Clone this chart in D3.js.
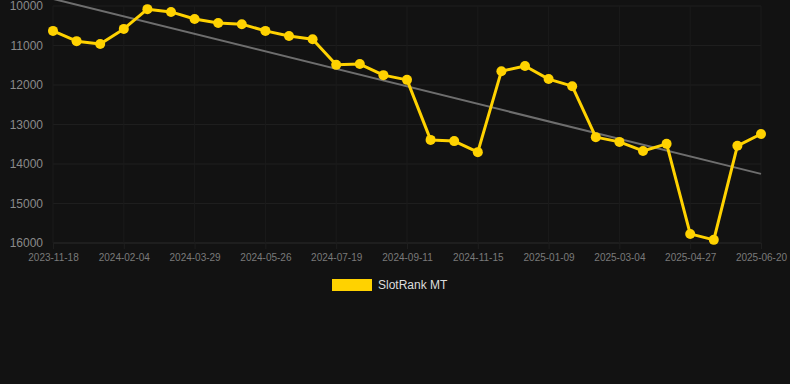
<!DOCTYPE html>
<html>
<head>
<meta charset="utf-8">
<script src="https://cdn.jsdelivr.net/npm/d3@7"></script>
<style>
  html, body { margin: 0; padding: 0; background: #121212; }
  svg { display: block; font-family: "Liberation Sans", Arial, sans-serif; }
</style>
</head>
<body>
<svg id="chart"></svg>
<script>
// dates of each rank sample
const dates = [
  "2023-11-18", "2023-12-14", "2024-01-09", "2024-02-04", "2024-02-22", "2024-03-11",
  "2024-03-29", "2024-04-17", "2024-05-07", "2024-05-26", "2024-06-13", "2024-07-01",
  "2024-07-19", "2024-08-06", "2024-08-24", "2024-09-11", "2024-10-03", "2024-10-24",
  "2024-11-15", "2024-12-03", "2024-12-21", "2025-01-09", "2025-01-27", "2025-02-14",
  "2025-03-04", "2025-03-22", "2025-04-09", "2025-04-27", "2025-05-15", "2025-06-02",
  "2025-06-20"
];
const ranks = [
  10630, 10890, 10960, 10580, 10080, 10150, 10330, 10430, 10460, 10630, 10760,
  10840, 11490, 11470, 11750, 11870, 13390, 13420, 13700, 11650, 11520, 11850,
  12030, 13320, 13440, 13670, 13490, 15770, 15920, 13540, 13240
];
const trend = [9820, 14250]; // trend line at first and last date
const yTicks = [10000, 11000, 12000, 13000, 14000, 15000, 16000];
const xTicks = dates.filter((d, i) => i % 3 === 0);
const seriesName = "SlotRank MT";

const width = 790, height = 384;
const margin = {top: 6, right: 29, bottom: 141, left: 53};

const svg = d3.select("#chart").attr("width", width).attr("height", height);

const x = d3.scalePoint()
  .domain(dates)
  .range([margin.left, width - margin.right]);

const y = d3.scaleLinear()
  .domain([10000, 16000])
  .range([margin.top, height - margin.bottom]);

// grid
svg.append("g")
  .selectAll("line")
  .data(yTicks)
  .join("line")
  .attr("x1", margin.left)
  .attr("x2", width - margin.right)
  .attr("y1", d => y(d))
  .attr("y2", d => y(d))
  .attr("stroke", d => d === 16000 ? "#2a2a2a" : "#1e1e1e");

svg.append("g")
  .selectAll("line")
  .data(xTicks)
  .join("line")
  .attr("x1", d => x(d))
  .attr("x2", d => x(d))
  .attr("y1", margin.top)
  .attr("y2", height - margin.bottom)
  .attr("stroke", "#1b1b1b");

// y axis labels
const yAxis = d3.axisLeft(y).tickValues(yTicks).tickFormat(d3.format("d")).tickSize(0).tickPadding(10);
svg.append("g")
  .attr("transform", `translate(${margin.left},0)`)
  .call(yAxis)
  .call(g => g.select(".domain").remove())
  .call(g => g.selectAll("text")
    .attr("fill", "#8a8a8a")
    .style("font-size", "12px")
    .style("font-family", "Liberation Sans, Arial, sans-serif"));

// x axis labels
const xAxis = d3.axisBottom(x).tickValues(xTicks).tickSize(6).tickPadding(5);
svg.append("g")
  .attr("transform", `translate(0,${height - margin.bottom})`)
  .call(xAxis)
  .call(g => g.select(".domain").remove())
  .call(g => g.selectAll("line").attr("stroke", "#1e1e1e"))
  .call(g => g.selectAll("text")
    .attr("fill", "#7a7a7a")
    .style("font-size", "10px")
    .style("font-family", "Liberation Sans, Arial, sans-serif"));

// trend line
svg.append("line")
  .attr("x1", x(dates[0]))
  .attr("x2", x(dates[dates.length - 1]))
  .attr("y1", y(trend[0]))
  .attr("y2", y(trend[1]))
  .attr("stroke", "#6e6e6e")
  .attr("stroke-width", 2);

// series
const line = d3.line()
  .x((d, i) => x(dates[i]))
  .y(d => y(d));

svg.append("path")
  .datum(ranks)
  .attr("d", line)
  .attr("fill", "none")
  .attr("stroke", "#ffd200")
  .attr("stroke-width", 3)
  .attr("stroke-linejoin", "round");

svg.append("g")
  .selectAll("circle")
  .data(ranks)
  .join("circle")
  .attr("cx", (d, i) => x(dates[i]))
  .attr("cy", d => y(d))
  .attr("r", 5)
  .attr("fill", "#ffd200");

// legend
const legend = svg.append("g").attr("transform", "translate(332,279)");
legend.append("rect")
  .attr("width", 40)
  .attr("height", 12)
  .attr("fill", "#ffd200");
legend.append("text")
  .attr("x", 46)
  .attr("y", 10)
  .attr("fill", "#dddddd")
  .style("font-size", "12px")
  .text(seriesName);
</script>
</body>
</html>
